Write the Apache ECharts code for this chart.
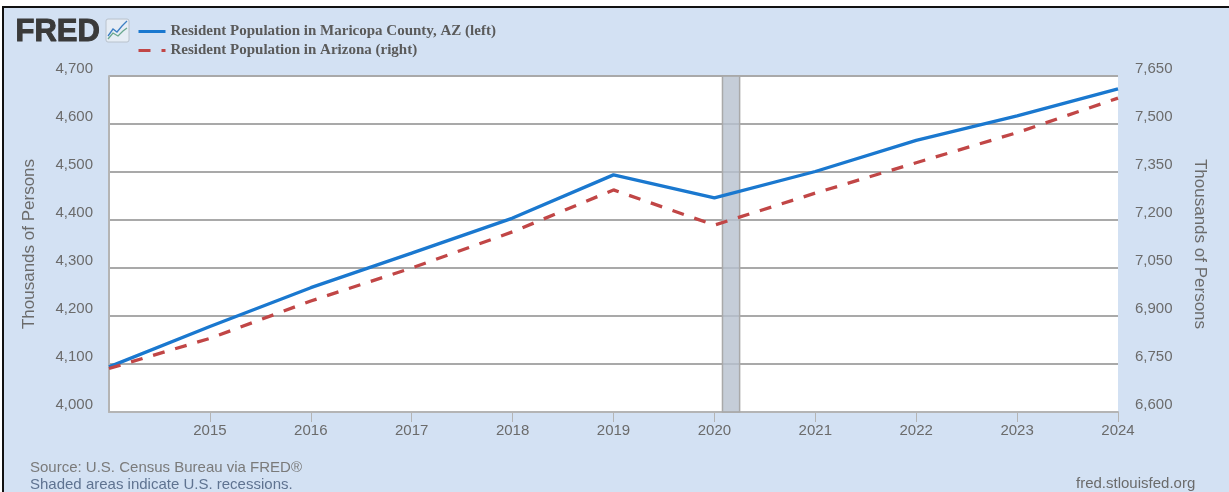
<!DOCTYPE html>
<html><head><meta charset="utf-8">
<style>html,body{margin:0;padding:0;background:#fff;overflow:hidden}#c{width:1229px;height:492px}</style>
<script src="https://cdn.jsdelivr.net/npm/echarts@6/dist/echarts.min.js"></script>
</head><body><div id="c"></div>
<script>
const years=[2014,2015,2016,2017,2018,2019,2020,2021,2022,2023,2024];
const maricopa=[4094,4178,4259,4331,4404,4494,4446,4501,4566,4617,4673];
const arizona=[6736,6830,6947,7050,7163,7294,7184,7284,7379,7473,7581];
const recession=[2020.08,2020.25];
const xTicks=[2015,2016,2017,2018,2019,2020,2021,2022,2023,2024];
const leftTicks=[4000,4100,4200,4300,4400,4500,4600,4700];
const nameA='Resident Population in Maricopa County, AZ (left)';
const nameB='Resident Population in Arizona (right)';
const yTitle='Thousands of Persons';
const sans='"Liberation Sans",Arial,sans-serif';
const grey='#6b6b6b';
const fmt=v=>v.toLocaleString('en-US');
const chart=echarts.init(document.getElementById('c'),null,{renderer:'canvas'});
const yLabel={color:grey,fontFamily:sans,fontSize:15,verticalAlign:'bottom',padding:[0,0,0,0],formatter:fmt};
chart.setOption({
 animation:false,
 backgroundColor:'#d3e1f3',
 grid:{left:109,right:111,top:76,bottom:80,show:true,backgroundColor:'#fff',borderWidth:0},
 legend:{orient:'vertical',left:132,top:19,itemWidth:27,itemHeight:14,itemGap:4,itemStyle:{opacity:0},lineStyle:{width:3},
  data:[{name:nameA},{name:nameB}],
  textStyle:{fontFamily:'"Liberation Serif",serif',fontWeight:'bold',fontSize:15,color:'#5a5a5a'}},
 xAxis:{type:'value',min:2014,max:2024,interval:1,
  axisLine:{lineStyle:{color:'#b4b4b4',width:2}},
  axisTick:{show:true,length:10,customValues:xTicks,lineStyle:{color:'#b4b4b4',width:1}},
  splitLine:{show:false},
  axisLabel:{color:grey,fontFamily:sans,fontSize:15,margin:11,customValues:xTicks,formatter:v=>String(v)}},
 yAxis:[
  {type:'value',min:leftTicks[0],max:leftTicks[leftTicks.length-1],interval:100,position:'left',
   name:yTitle,nameLocation:'middle',nameGap:71,nameRotate:90,nameTextStyle:{color:grey,fontFamily:sans,fontSize:17},
   axisLine:{show:true,lineStyle:{color:'#b4b4b4',width:2}},axisTick:{show:false},
   splitLine:{show:true,lineStyle:{color:'#a9a9a9',width:2}},axisLabel:{...yLabel,margin:16}},
  {type:'value',min:6600,max:7650,interval:150,position:'right',
   name:yTitle,nameLocation:'middle',nameGap:73,nameRotate:-90,nameTextStyle:{color:grey,fontFamily:sans,fontSize:17},
   axisLine:{show:false},axisTick:{show:false},splitLine:{show:false},axisLabel:{...yLabel,margin:17}}
 ],
 series:[
  {name:nameA,type:'line',yAxisIndex:0,symbol:'none',z:4,
   data:years.map((y,i)=>[y,maricopa[i]]),lineStyle:{color:'#1a78cf',width:3.3},itemStyle:{color:'#1a78cf'},
   markArea:{silent:true,z:3,itemStyle:{color:'rgba(182,192,206,0.8)',borderColor:'#a9a9a9',borderWidth:1.5},
    data:[[{xAxis:recession[0]},{xAxis:recession[1]}]]}},
  {name:nameB,type:'line',yAxisIndex:1,symbol:'none',z:4,
   data:years.map((y,i)=>[y,arizona[i]]),lineStyle:{color:'#c14646',width:3.3,type:[12,11]},itemStyle:{color:'#c14646'}}
 ],
 graphic:[
  {type:'rect',shape:{x:0,y:0,width:1229,height:6},style:{fill:'#fff'},silent:true},
  {type:'rect',shape:{x:0,y:0,width:2,height:492},style:{fill:'#fff'},silent:true},
  {type:'rect',shape:{x:2,y:6,width:1227,height:2},style:{fill:'#111'},silent:true},
  {type:'rect',shape:{x:2,y:6,width:2,height:486},style:{fill:'#111'},silent:true},
  {type:'text',left:15,top:16,style:{text:'FRED',fontFamily:sans,fontWeight:'bold',fontSize:31,fill:'#3a3a3a',stroke:'#3a3a3a',lineWidth:1}},
  {type:'rect',shape:{x:106,y:19,width:23,height:23,r:2},style:{fill:'#e6edf5',stroke:'#b9c2cc',lineWidth:1}},
  {type:'polyline',shape:{points:[[108,36],[113,29],[117,32],[122,26],[127,21]]},style:{stroke:'#3d7fc4',lineWidth:1.3,fill:'none'}},
  {type:'polyline',shape:{points:[[108,39],[113,33],[118,36],[123,31],[127,28]]},style:{stroke:'#6aa88f',lineWidth:1.3,fill:'none'}},
  {type:'text',left:30,top:460,style:{text:'Source: U.S. Census Bureau via FRED®',fontFamily:sans,fontSize:15,fill:'#7a7a7a'}},
  {type:'text',left:30,top:477,style:{text:'Shaded areas indicate U.S. recessions.',fontFamily:sans,fontSize:15,fill:'#5f7391'}},
  {type:'text',left:1076,top:476,style:{text:'fred.stlouisfed.org',fontFamily:sans,fontSize:15,fill:'#6b6b6b'}}
 ]
});
</script></body></html>
